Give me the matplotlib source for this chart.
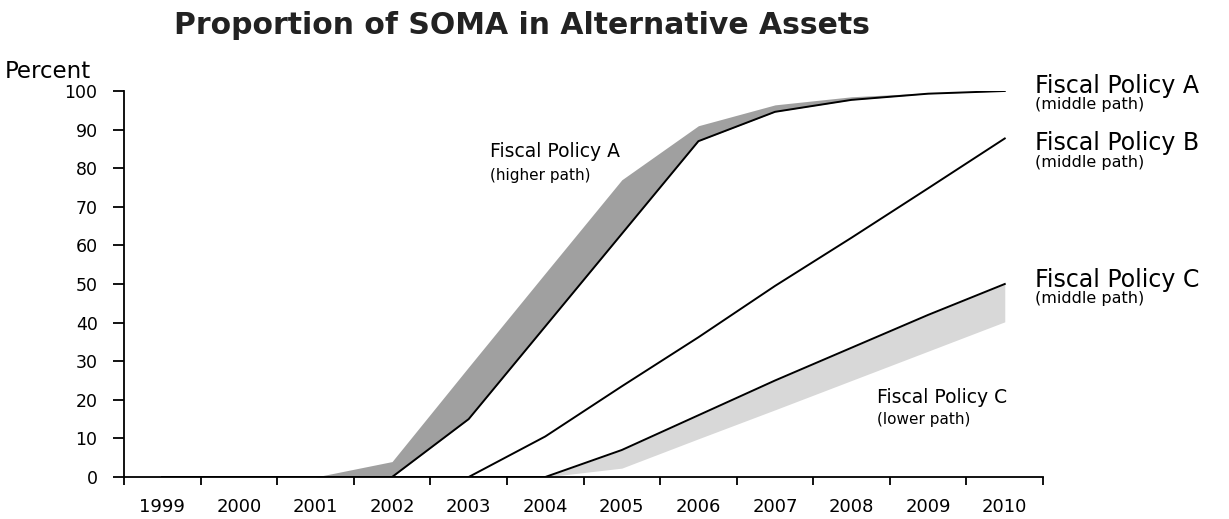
import numpy as np
import matplotlib
matplotlib.use("Agg")
import matplotlib.pyplot as plt

# years (points sit at the middle of each year)
years = np.arange(1999, 2011)

# Fiscal Policy A
a_middle = [0, 0, 0, 0, 15, 39, 63, 87, 94.6, 97.7, 99.3, 100]
a_higher = [0, 0, 0, 4, 28.5, 52.8, 77, 91, 96.4, 98.5, 99.5, 100]

# Fiscal Policy B
b_middle = [0, 0, 0, 0, 0, 10.5, 23.5, 36.2, 49.5, 62, 74.8, 87.7]

# Fiscal Policy C
c_middle = [0, 0, 0, 0, 0, 0, 7, 16, 25, 33.5, 42, 50]
c_lower = [0, 0, 0, 0, 0, 0, 2.3, 9.9, 17.4, 25, 32.6, 40.2]

year_labels = [str(y) for y in years]
y_ticks = np.arange(0, 101, 10)

plt.rcParams['font.family'] = 'DejaVu Sans'

fig = plt.figure(figsize=(12.29, 5.19), dpi=100)
ax = fig.add_axes([0.1009, 0.0809, 0.7478, 0.7438])

# shaded bands
ax.fill_between(years, a_middle, a_higher, color='#a0a0a0', lw=0)
ax.fill_between(years, c_lower, c_middle, color='#d8d8d8', lw=0)

# middle path lines
for s in (a_middle, b_middle, c_middle):
    ax.plot(years, s, color='black', lw=1.4)

ax.set_xlim(1998.5, 2010.5)
ax.set_ylim(0, 100)

ax.spines['top'].set_visible(False)
ax.spines['right'].set_visible(False)
ax.spines['left'].set_linewidth(1.3)
ax.spines['bottom'].set_linewidth(1.3)

ax.set_yticks(y_ticks)
ax.tick_params(axis='y', direction='out', length=8, width=1.3, pad=11, labelsize=12.5)

# major ticks between years, labels at year centers
ax.set_xticks(np.arange(1998.5, 2011, 1))
ax.set_xticklabels([])
ax.set_xticks(years, minor=True)
ax.set_xticklabels(year_labels, minor=True)
ax.tick_params(axis='x', which='major', direction='out', length=6, width=1.3)
ax.tick_params(axis='x', which='minor', length=0, pad=15, labelsize=13)

# in-chart labels
ax.text(2003.28, 84.2, 'Fiscal Policy A', fontsize=13.5, va='center', ha='left')
ax.text(2003.28, 78.2, '(higher path)', fontsize=11, va='center', ha='left')
ax.text(2008.33, 20.5, 'Fiscal Policy C', fontsize=13.5, va='center', ha='left')
ax.text(2008.33, 14.8, '(lower path)', fontsize=11, va='center', ha='left')

# right-hand labels (baselines)
right = [('Fiscal Policy A', 99.6, 95.4),
         ('Fiscal Policy B', 84.6, 80.2),
         ('Fiscal Policy C', 49.3, 45.1)]
for name, y1, y2 in right:
    ax.text(2010.39, y1, name, fontsize=17, va='baseline', ha='left', clip_on=False)
    ax.text(2010.39, y2, '(middle path)', fontsize=11.5, va='baseline', ha='left', clip_on=False)

fig.text(5 / 1229, 1 - 78 / 519, 'Percent', fontsize=16.5, va='baseline', ha='left')
fig.text(522 / 1229, 1 - 25 / 519, 'Proportion of SOMA in Alternative Assets',
         fontsize=21.5, fontweight='bold', va='center', ha='center', color='#222222')

fig.savefig('out.png', dpi=100)
